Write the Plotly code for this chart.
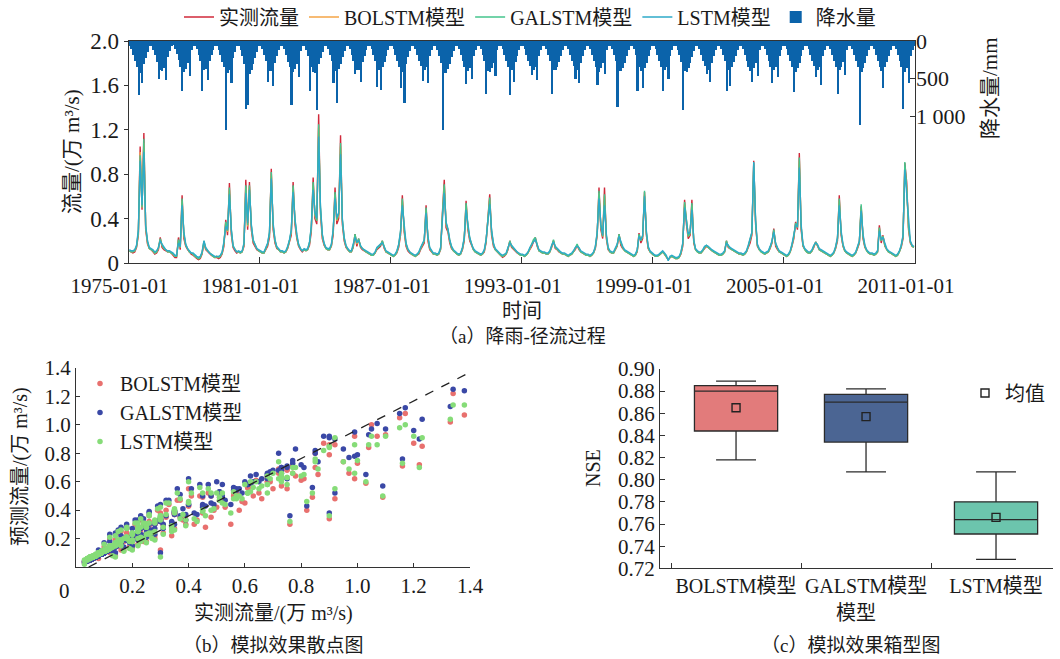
import plotly.graph_objects as go
import pandas as pd

# ---------------- data (monthly, 1975-01 .. 2010-12) ----------------
observed_rows = [
 [0.11,0.10,0.09,0.10,0.14,0.25,1.05,0.48,1.17,0.30,0.17,0.13],
 [0.12,0.10,0.08,0.09,0.12,0.23,0.14,0.12,0.11,0.10,0.10,0.09],
 [0.07,0.05,0.05,0.23,0.12,0.61,0.22,0.15,0.12,0.10,0.08,0.07],
 [0.05,0.04,0.03,0.04,0.08,0.18,0.12,0.10,0.08,0.07,0.06,0.05],
 [0.05,0.04,0.05,0.08,0.15,0.39,0.25,0.72,0.26,0.14,0.11,0.09],
 [0.10,0.09,0.10,0.15,0.75,0.30,0.73,0.30,0.18,0.15,0.12,0.11],
 [0.10,0.09,0.09,0.12,0.15,0.23,0.85,0.30,0.18,0.13,0.12,0.10],
 [0.10,0.09,0.10,0.13,0.18,0.25,0.73,0.35,0.22,0.15,0.12,0.10],
 [0.12,0.11,0.12,0.16,0.28,0.77,0.40,0.35,1.34,0.45,0.22,0.16],
 [0.13,0.12,0.12,0.15,0.25,0.68,0.35,0.40,1.15,0.35,0.20,0.14],
 [0.12,0.10,0.10,0.14,0.26,0.15,0.22,0.14,0.12,0.11,0.10,0.09],
 [0.08,0.07,0.07,0.09,0.12,0.14,0.15,0.20,0.13,0.10,0.09,0.08],
 [0.07,0.06,0.07,0.09,0.14,0.25,0.61,0.28,0.15,0.11,0.09,0.08],
 [0.07,0.06,0.07,0.08,0.12,0.15,0.18,0.52,0.20,0.12,0.10,0.08],
 [0.08,0.07,0.08,0.12,0.45,0.75,0.32,0.28,0.18,0.13,0.11,0.09],
 [0.08,0.07,0.08,0.12,0.20,0.56,0.30,0.20,0.15,0.12,0.10,0.09],
 [0.08,0.07,0.08,0.10,0.18,0.45,0.62,0.25,0.15,0.12,0.10,0.08],
 [0.06,0.05,0.06,0.08,0.12,0.20,0.14,0.12,0.10,0.09,0.08,0.07],
 [0.07,0.06,0.07,0.09,0.12,0.15,0.20,0.23,0.15,0.11,0.10,0.09],
 [0.09,0.08,0.08,0.10,0.14,0.20,0.13,0.12,0.10,0.09,0.08,0.08],
 [0.07,0.06,0.07,0.08,0.10,0.12,0.16,0.12,0.10,0.09,0.08,0.07],
 [0.07,0.06,0.07,0.09,0.13,0.25,0.68,0.30,0.22,0.68,0.22,0.12],
 [0.10,0.09,0.09,0.12,0.15,0.26,0.16,0.13,0.11,0.10,0.09,0.08],
 [0.07,0.06,0.07,0.10,0.27,0.18,0.22,0.64,0.25,0.13,0.10,0.08],
 [0.07,0.06,0.06,0.07,0.09,0.10,0.08,0.06,0.03,0.05,0.06,0.05],
 [0.04,0.04,0.05,0.08,0.15,0.57,0.35,0.22,0.25,0.57,0.18,0.12],
 [0.10,0.09,0.09,0.11,0.13,0.15,0.14,0.12,0.11,0.10,0.09,0.08],
 [0.07,0.07,0.08,0.10,0.20,0.14,0.13,0.12,0.11,0.10,0.09,0.08],
 [0.08,0.07,0.08,0.10,0.14,0.18,0.25,0.92,0.35,0.15,0.12,0.10],
 [0.09,0.08,0.09,0.10,0.13,0.18,0.31,0.15,0.12,0.10,0.09,0.08],
 [0.07,0.06,0.07,0.10,0.15,0.22,0.37,0.30,0.99,0.30,0.15,0.12],
 [0.10,0.09,0.09,0.11,0.14,0.19,0.15,0.12,0.11,0.10,0.09,0.08],
 [0.07,0.06,0.07,0.09,0.13,0.20,0.61,0.25,0.15,0.11,0.09,0.08],
 [0.07,0.06,0.07,0.09,0.13,0.18,0.51,0.22,0.14,0.11,0.09,0.08],
 [0.08,0.07,0.08,0.10,0.34,0.18,0.25,0.15,0.12,0.10,0.09,0.08],
 [0.07,0.06,0.07,0.10,0.14,0.22,0.90,0.73,0.30,0.18,0.15,0.14],
]

bolstm_rows = [
 [0.11,0.10,0.10,0.11,0.15,0.27,1.00,0.50,1.08,0.32,0.18,0.13],
 [0.12,0.11,0.09,0.10,0.13,0.21,0.16,0.13,0.12,0.10,0.10,0.09],
 [0.08,0.06,0.06,0.20,0.14,0.56,0.25,0.16,0.13,0.10,0.09,0.08],
 [0.06,0.05,0.04,0.05,0.09,0.19,0.13,0.11,0.09,0.08,0.06,0.05],
 [0.06,0.05,0.06,0.09,0.17,0.36,0.28,0.66,0.29,0.15,0.12,0.10],
 [0.10,0.09,0.10,0.17,0.68,0.33,0.69,0.33,0.20,0.16,0.13,0.11],
 [0.10,0.09,0.09,0.13,0.17,0.26,0.80,0.33,0.20,0.14,0.12,0.10],
 [0.10,0.09,0.10,0.14,0.20,0.28,0.68,0.38,0.24,0.16,0.13,0.11],
 [0.12,0.11,0.12,0.18,0.31,0.71,0.43,0.38,1.22,0.49,0.24,0.17],
 [0.13,0.12,0.12,0.16,0.28,0.62,0.38,0.43,1.05,0.38,0.22,0.15],
 [0.12,0.10,0.10,0.15,0.25,0.17,0.21,0.15,0.13,0.11,0.10,0.09],
 [0.08,0.07,0.07,0.09,0.13,0.15,0.16,0.19,0.14,0.10,0.09,0.08],
 [0.07,0.06,0.07,0.10,0.16,0.27,0.56,0.30,0.17,0.12,0.10,0.08],
 [0.07,0.06,0.07,0.09,0.13,0.17,0.20,0.48,0.22,0.13,0.10,0.08],
 [0.08,0.07,0.08,0.13,0.42,0.69,0.35,0.30,0.20,0.14,0.11,0.09],
 [0.08,0.07,0.08,0.13,0.22,0.52,0.32,0.22,0.16,0.12,0.10,0.09],
 [0.08,0.07,0.08,0.11,0.20,0.43,0.57,0.28,0.17,0.12,0.10,0.08],
 [0.07,0.06,0.07,0.08,0.13,0.19,0.15,0.13,0.11,0.09,0.08,0.07],
 [0.07,0.06,0.07,0.09,0.13,0.16,0.20,0.22,0.16,0.11,0.10,0.09],
 [0.09,0.08,0.08,0.10,0.15,0.20,0.14,0.12,0.10,0.09,0.08,0.08],
 [0.07,0.06,0.07,0.08,0.10,0.13,0.16,0.13,0.10,0.09,0.08,0.07],
 [0.07,0.06,0.07,0.09,0.14,0.27,0.63,0.33,0.24,0.60,0.24,0.13],
 [0.10,0.09,0.09,0.12,0.16,0.25,0.18,0.14,0.11,0.10,0.09,0.08],
 [0.07,0.06,0.07,0.11,0.25,0.20,0.24,0.61,0.27,0.14,0.10,0.08],
 [0.07,0.06,0.06,0.07,0.09,0.10,0.08,0.06,0.03,0.05,0.06,0.05],
 [0.04,0.04,0.05,0.09,0.17,0.53,0.37,0.24,0.27,0.52,0.20,0.12],
 [0.10,0.09,0.09,0.11,0.14,0.15,0.14,0.12,0.11,0.10,0.09,0.08],
 [0.07,0.07,0.08,0.10,0.19,0.15,0.13,0.12,0.11,0.10,0.09,0.08],
 [0.08,0.07,0.08,0.10,0.15,0.20,0.27,0.86,0.37,0.16,0.12,0.10],
 [0.09,0.08,0.09,0.10,0.14,0.19,0.29,0.17,0.13,0.10,0.09,0.08],
 [0.07,0.06,0.07,0.10,0.16,0.24,0.35,0.32,0.92,0.33,0.16,0.12],
 [0.10,0.09,0.09,0.11,0.15,0.18,0.16,0.12,0.11,0.10,0.09,0.08],
 [0.07,0.06,0.07,0.09,0.14,0.22,0.56,0.27,0.16,0.11,0.09,0.08],
 [0.07,0.06,0.07,0.09,0.14,0.19,0.49,0.24,0.15,0.11,0.09,0.08],
 [0.08,0.07,0.08,0.10,0.31,0.20,0.24,0.16,0.12,0.10,0.09,0.08],
 [0.07,0.06,0.07,0.10,0.15,0.24,0.86,0.67,0.32,0.19,0.15,0.14],
]

galstm_rows = [
 [0.11,0.10,0.10,0.11,0.15,0.28,0.97,0.50,1.12,0.33,0.19,0.13],
 [0.12,0.11,0.09,0.10,0.14,0.22,0.16,0.13,0.12,0.10,0.10,0.09],
 [0.08,0.06,0.06,0.21,0.14,0.58,0.26,0.16,0.13,0.10,0.09,0.08],
 [0.06,0.05,0.04,0.05,0.09,0.20,0.13,0.11,0.09,0.08,0.06,0.05],
 [0.06,0.05,0.06,0.09,0.18,0.37,0.29,0.68,0.30,0.15,0.12,0.10],
 [0.10,0.09,0.10,0.17,0.70,0.34,0.70,0.34,0.20,0.16,0.13,0.11],
 [0.10,0.09,0.09,0.13,0.17,0.27,0.82,0.34,0.20,0.14,0.12,0.10],
 [0.10,0.09,0.10,0.14,0.20,0.29,0.70,0.39,0.24,0.16,0.13,0.11],
 [0.12,0.11,0.12,0.18,0.32,0.73,0.44,0.38,1.25,0.50,0.25,0.17],
 [0.13,0.12,0.12,0.16,0.29,0.64,0.39,0.44,1.08,0.39,0.22,0.15],
 [0.12,0.10,0.10,0.15,0.26,0.18,0.22,0.15,0.13,0.11,0.10,0.09],
 [0.08,0.07,0.07,0.09,0.13,0.15,0.16,0.20,0.14,0.10,0.09,0.08],
 [0.07,0.06,0.07,0.10,0.16,0.28,0.58,0.31,0.17,0.12,0.10,0.08],
 [0.07,0.06,0.07,0.09,0.13,0.17,0.20,0.50,0.23,0.13,0.10,0.08],
 [0.08,0.07,0.08,0.13,0.43,0.71,0.36,0.30,0.20,0.14,0.11,0.09],
 [0.08,0.07,0.08,0.13,0.22,0.54,0.33,0.22,0.16,0.12,0.10,0.09],
 [0.08,0.07,0.08,0.11,0.20,0.44,0.59,0.28,0.17,0.12,0.10,0.08],
 [0.07,0.06,0.07,0.08,0.13,0.20,0.15,0.13,0.11,0.09,0.08,0.07],
 [0.07,0.06,0.07,0.09,0.13,0.16,0.21,0.23,0.16,0.11,0.10,0.09],
 [0.09,0.08,0.08,0.10,0.15,0.21,0.14,0.12,0.10,0.09,0.08,0.08],
 [0.07,0.06,0.07,0.08,0.10,0.13,0.17,0.13,0.10,0.09,0.08,0.07],
 [0.07,0.06,0.07,0.09,0.14,0.27,0.65,0.33,0.24,0.62,0.24,0.13],
 [0.10,0.09,0.09,0.12,0.16,0.26,0.18,0.14,0.11,0.10,0.09,0.08],
 [0.07,0.06,0.07,0.11,0.26,0.20,0.24,0.65,0.27,0.14,0.10,0.08],
 [0.07,0.06,0.06,0.07,0.09,0.10,0.08,0.06,0.03,0.05,0.06,0.05],
 [0.04,0.04,0.05,0.09,0.17,0.55,0.37,0.24,0.27,0.54,0.20,0.12],
 [0.10,0.09,0.09,0.11,0.14,0.16,0.14,0.12,0.11,0.10,0.09,0.08],
 [0.07,0.07,0.08,0.10,0.20,0.15,0.13,0.12,0.11,0.10,0.09,0.08],
 [0.08,0.07,0.08,0.10,0.15,0.20,0.27,0.90,0.38,0.16,0.12,0.10],
 [0.09,0.08,0.09,0.10,0.14,0.19,0.30,0.17,0.13,0.10,0.09,0.08],
 [0.07,0.06,0.07,0.10,0.16,0.24,0.36,0.32,0.95,0.33,0.16,0.12],
 [0.10,0.09,0.09,0.11,0.15,0.19,0.16,0.12,0.11,0.10,0.09,0.08],
 [0.07,0.06,0.07,0.09,0.14,0.22,0.58,0.27,0.16,0.11,0.09,0.08],
 [0.07,0.06,0.07,0.09,0.14,0.19,0.53,0.24,0.15,0.11,0.09,0.08],
 [0.08,0.07,0.08,0.10,0.32,0.20,0.24,0.16,0.12,0.10,0.09,0.08],
 [0.07,0.06,0.07,0.10,0.15,0.24,0.91,0.68,0.32,0.19,0.15,0.14],
]

lstm_rows = [
 [0.12,0.11,0.11,0.12,0.16,0.30,0.92,0.52,1.00,0.34,0.20,0.14],
 [0.13,0.12,0.10,0.11,0.14,0.20,0.17,0.14,0.12,0.11,0.11,0.10],
 [0.09,0.07,0.07,0.18,0.15,0.52,0.28,0.17,0.13,0.11,0.09,0.09],
 [0.07,0.06,0.05,0.06,0.10,0.20,0.14,0.11,0.09,0.08,0.07,0.06],
 [0.06,0.06,0.07,0.10,0.19,0.33,0.30,0.62,0.31,0.16,0.12,0.10],
 [0.11,0.10,0.11,0.18,0.63,0.36,0.66,0.35,0.21,0.16,0.13,0.12],
 [0.11,0.10,0.10,0.14,0.18,0.28,0.76,0.36,0.21,0.15,0.13,0.11],
 [0.11,0.10,0.11,0.15,0.21,0.30,0.64,0.40,0.26,0.17,0.13,0.11],
 [0.13,0.12,0.13,0.19,0.33,0.66,0.46,0.40,1.14,0.52,0.26,0.18],
 [0.14,0.13,0.13,0.17,0.30,0.58,0.41,0.45,0.98,0.40,0.23,0.16],
 [0.13,0.11,0.11,0.16,0.23,0.19,0.20,0.16,0.13,0.12,0.11,0.10],
 [0.09,0.08,0.08,0.10,0.14,0.16,0.17,0.18,0.15,0.11,0.10,0.09],
 [0.08,0.07,0.08,0.11,0.17,0.29,0.52,0.32,0.18,0.13,0.10,0.09],
 [0.08,0.07,0.08,0.10,0.14,0.18,0.21,0.45,0.24,0.14,0.11,0.09],
 [0.09,0.08,0.09,0.14,0.39,0.63,0.37,0.31,0.21,0.15,0.12,0.10],
 [0.09,0.08,0.09,0.14,0.23,0.48,0.34,0.23,0.17,0.13,0.11,0.10],
 [0.09,0.08,0.09,0.12,0.21,0.40,0.53,0.30,0.18,0.13,0.11,0.09],
 [0.08,0.07,0.08,0.09,0.14,0.18,0.16,0.14,0.11,0.10,0.09,0.08],
 [0.08,0.07,0.08,0.10,0.14,0.17,0.19,0.21,0.17,0.12,0.11,0.10],
 [0.10,0.09,0.09,0.11,0.16,0.19,0.15,0.13,0.11,0.10,0.09,0.09],
 [0.08,0.07,0.08,0.09,0.11,0.14,0.15,0.14,0.11,0.10,0.09,0.08],
 [0.08,0.07,0.08,0.10,0.15,0.28,0.58,0.35,0.25,0.52,0.26,0.14],
 [0.11,0.10,0.10,0.13,0.17,0.24,0.19,0.15,0.12,0.11,0.10,0.09],
 [0.08,0.07,0.08,0.12,0.24,0.21,0.25,0.60,0.29,0.15,0.11,0.09],
 [0.08,0.07,0.07,0.08,0.10,0.11,0.09,0.07,0.02,0.06,0.07,0.06],
 [0.05,0.05,0.06,0.10,0.18,0.50,0.38,0.26,0.28,0.48,0.21,0.13],
 [0.11,0.10,0.10,0.12,0.15,0.16,0.15,0.13,0.12,0.11,0.10,0.09],
 [0.08,0.08,0.09,0.11,0.18,0.16,0.14,0.13,0.12,0.11,0.10,0.09],
 [0.09,0.08,0.09,0.11,0.16,0.21,0.28,0.91,0.39,0.17,0.13,0.11],
 [0.10,0.09,0.10,0.11,0.15,0.20,0.28,0.18,0.14,0.11,0.10,0.09],
 [0.08,0.07,0.08,0.11,0.17,0.25,0.34,0.33,0.86,0.35,0.17,0.13],
 [0.11,0.10,0.10,0.12,0.16,0.18,0.17,0.13,0.12,0.11,0.10,0.09],
 [0.08,0.07,0.08,0.10,0.15,0.23,0.52,0.29,0.17,0.12,0.10,0.09],
 [0.08,0.07,0.08,0.10,0.15,0.20,0.47,0.26,0.16,0.12,0.10,0.09],
 [0.09,0.08,0.09,0.11,0.29,0.21,0.23,0.17,0.13,0.11,0.10,0.09],
 [0.08,0.07,0.08,0.11,0.16,0.25,0.84,0.62,0.34,0.20,0.16,0.15],
]

rain_rows = [
 [60,110,190,270,340,720,420,560,300,220,140,70],
 [70,120,180,280,500,390,400,360,520,210,130,60],
 [50,100,170,250,340,660,410,370,290,460,120,60],
 [60,110,180,260,660,380,370,520,270,190,120,60],
 [70,120,190,280,350,1190,430,380,560,220,140,60],
 [70,120,200,300,900,850,440,380,300,220,140,70],
 [60,110,180,270,540,400,400,600,290,200,120,60],
 [60,110,190,280,350,850,410,370,300,480,130,60],
 [70,120,200,660,350,410,430,920,300,220,140,70],
 [60,110,190,270,560,400,830,370,300,210,130,60],
 [60,110,180,260,440,390,390,540,280,200,120,60],
 [60,110,180,260,610,380,650,350,280,200,120,60],
 [60,110,190,270,340,620,410,830,300,210,130,60],
 [60,110,180,260,330,530,390,350,560,200,120,60],
 [70,120,200,290,1180,420,420,370,300,210,130,70],
 [60,110,180,260,340,570,400,360,500,200,120,60],
 [60,110,190,270,700,400,410,360,290,460,120,60],
 [60,110,180,260,340,720,390,550,280,200,120,60],
 [60,110,180,260,330,450,390,350,520,200,120,60],
 [60,110,180,260,700,390,390,350,280,200,120,60],
 [60,110,180,260,330,500,390,560,290,200,120,60],
 [60,110,180,270,340,580,410,360,290,440,120,60],
 [60,110,190,270,880,400,400,360,290,200,120,60],
 [60,110,190,660,350,400,620,360,290,200,120,60],
 [60,110,180,260,340,660,390,350,500,200,120,60],
 [70,120,190,280,925,400,410,360,290,210,130,60],
 [60,110,180,260,330,440,390,540,290,200,120,60],
 [60,110,180,260,660,390,600,350,280,200,120,60],
 [60,110,180,260,340,400,540,360,290,460,120,60],
 [60,110,180,260,340,560,390,350,480,200,120,60],
 [60,110,190,270,350,680,410,360,290,200,120,60],
 [60,110,180,260,330,480,390,350,580,200,120,60],
 [60,110,180,260,340,700,390,350,280,450,120,60],
 [60,110,190,270,350,1120,410,360,290,200,120,60],
 [60,110,180,260,340,400,620,350,280,200,120,60],
 [60,110,190,270,350,900,410,360,560,200,120,60],
]

# extra daily samples (peaks) used in the scatter panel
extra_obs = [1.38,1.33,1.23,1.22,1.20,1.16,1.10,1.09,1.07,1.04,1.03,1.00,0.99,0.97,0.95,0.92,0.90,0.90,0.88,0.86,
             0.84,0.82,0.80,0.78,0.76,0.75,0.72,0.70,0.68,0.66,0.63,0.60,0.58,0.55,0.52,0.50,0.48,0.46,0.44,0.42,
             0.40,0.38,0.36,0.34,0.32,0.30,0.30,0.28,0.26,0.24,0.22,0.20,0.18,0.16,0.14,0.12,0.10,0.08]
extra_bolstm = [1.07,1.02,0.85,0.72,0.87,0.71,0.93,0.49,0.92,0.84,0.59,0.73,0.62,0.66,0.74,0.48,0.34,0.79,0.87,0.65,
                0.49,0.40,0.61,0.64,0.30,0.55,0.69,0.55,0.60,0.48,0.50,0.45,0.40,0.30,0.46,0.42,0.35,0.28,0.50,0.30,
                0.55,0.33,0.47,0.22,0.40,0.12,0.38,0.22,0.32,0.18,0.28,0.15,0.24,0.12,0.19,0.10,0.14,0.06]
extra_galstm = [1.24,1.13,1.04,0.90,0.96,0.76,0.97,0.57,1.01,0.93,0.65,0.79,0.78,0.77,0.83,0.52,0.38,0.92,0.92,0.74,
                0.56,0.43,0.72,0.83,0.36,0.62,0.80,0.68,0.66,0.62,0.60,0.60,0.55,0.44,0.58,0.60,0.45,0.43,0.58,0.38,
                0.62,0.41,0.55,0.28,0.47,0.10,0.44,0.27,0.38,0.22,0.33,0.27,0.28,0.22,0.24,0.18,0.17,0.12]
extra_lstm = [1.14,1.04,0.91,0.70,0.92,0.73,0.92,0.50,0.86,0.86,0.60,0.75,0.66,0.69,0.74,0.55,0.36,0.85,0.82,0.69,
              0.52,0.46,0.64,0.70,0.32,0.58,0.74,0.66,0.64,0.57,0.56,0.58,0.50,0.38,0.52,0.52,0.40,0.36,0.56,0.34,
              0.60,0.37,0.52,0.25,0.45,0.07,0.42,0.25,0.36,0.20,0.31,0.24,0.27,0.18,0.22,0.15,0.16,0.10]
# extra daily samples (mid range)
mid_obs = [0.12,0.14,0.15,0.17,0.18,0.19,0.21,0.22,0.23,0.25,0.26,0.27,0.29,0.31,0.33,0.35,0.37,0.39,0.41,0.43,
           0.45,0.47,0.49,0.51,0.53,0.56,0.59,0.62,0.65,0.69,0.73,0.77,0.81,0.85,0.13,0.16,0.20,0.24,0.28,0.34]
mid_bolstm = [0.20,0.08,0.24,0.12,0.27,0.14,0.30,0.16,0.33,0.18,0.36,0.21,0.40,0.24,0.44,0.27,0.47,0.30,0.50,0.33,
              0.38,0.52,0.40,0.47,0.42,0.50,0.46,0.58,0.52,0.60,0.57,0.66,0.62,0.70,0.09,0.25,0.13,0.30,0.20,0.26]
mid_galstm = [0.23,0.10,0.26,0.14,0.30,0.17,0.33,0.19,0.36,0.21,0.39,0.24,0.43,0.27,0.47,0.30,0.51,0.33,0.55,0.37,
              0.42,0.58,0.44,0.53,0.47,0.56,0.52,0.64,0.60,0.67,0.66,0.75,0.70,0.80,0.11,0.28,0.15,0.34,0.23,0.30]
mid_lstm = [0.21,0.07,0.25,0.11,0.28,0.13,0.31,0.15,0.34,0.17,0.37,0.20,0.41,0.23,0.45,0.26,0.48,0.29,0.52,0.32,
            0.40,0.55,0.41,0.49,0.44,0.53,0.48,0.60,0.55,0.62,0.60,0.70,0.65,0.74,0.08,0.26,0.12,0.31,0.19,0.27]

ref_line_x = [0.045, 1.40]
ref_line_y = [0.0, 1.37]

model_names = ["BOLSTM模型", "GALSTM模型", "LSTM模型"]
nse_lower = [0.818, 0.807, 0.728]
nse_q1 = [0.844, 0.834, 0.751]
nse_median = [0.880, 0.870, 0.764]
nse_q3 = [0.885, 0.877, 0.780]
nse_upper = [0.889, 0.882, 0.807]
nse_mean = [0.865, 0.857, 0.766]

date_ticks = ["1975-01-01", "1981-01-01", "1987-01-01", "1993-01-01", "1999-01-01", "2005-01-01", "2011-01-01"]
flow_ticks = [0, 0.4, 0.8, 1.2, 1.6, 2.0]
flow_ticktext = ["0", "0.4", "0.8", "1.2", "1.6", "2.0"]
rain_ticks = [0, 500, 1000]
rain_ticktext = ["0", "500", "1 000"]
sc_ticks = [0.2, 0.4, 0.6, 0.8, 1.0, 1.2, 1.4]
sc_ticktext = ["0.2", "0.4", "0.6", "0.8", "1.0", "1.2", "1.4"]

# ---------------- build ----------------
def flat(rows):
    return [v for r in rows for v in r]

obs = flat(observed_rows)
bol = flat(bolstm_rows)
gal = flat(galstm_rows)
lst = flat(lstm_rows)
rain = flat(rain_rows)
assert len(obs) == len(bol) == len(gal) == len(lst) == len(rain), (len(obs), len(bol), len(gal), len(lst), len(rain))
dates = pd.date_range("1975-01-01", periods=len(obs), freq="MS") + pd.Timedelta(days=14)

FONT = "Liberation Serif, Times New Roman, Noto Sans CJK SC, serif"
TXT = "#1a1a1a"
AX = "#333333"

C_OBS, C_BOL, C_GAL, C_LST = "#d0283a", "#f4a446", "#45c58c", "#2eaac9"
C_RAIN = "#0b63aa"

fig = go.Figure()

# --- panel (a)
for name, ys, col in [("实测流量", obs, C_OBS), ("BOLSTM模型", bol, C_BOL),
                      ("GALSTM模型", gal, C_GAL), ("LSTM模型", lst, C_LST)]:
    fig.add_trace(go.Scatter(x=dates, y=ys, mode="lines", name=name,
                             line=dict(color=col, width=1.4), xaxis="x", yaxis="y"))
fig.add_trace(go.Bar(x=dates, y=rain, name="降水量", marker=dict(color=C_RAIN, line=dict(width=0)),
                     xaxis="x", yaxis="y2"))

# --- panel (b)
sc_obs = obs + extra_obs + mid_obs
for name, ys, ex, md, col in [("BOLSTM模型", bol, extra_bolstm, mid_bolstm, "#e8706e"),
                              ("GALSTM模型", gal, extra_galstm, mid_galstm, "#3a48a6"),
                              ("LSTM模型", lst, extra_lstm, mid_lstm, "#86dc78")]:
    fig.add_trace(go.Scatter(x=sc_obs, y=ys + ex + md, mode="markers", name=name,
                             marker=dict(color=col, size=5.5, line=dict(width=0)),
                             xaxis="x3", yaxis="y3", legend="legend2"))
fig.add_trace(go.Scatter(x=ref_line_x, y=ref_line_y, mode="lines", showlegend=False,
                         line=dict(color="#222", width=1.3, dash="dash"), xaxis="x3", yaxis="y3"))

# --- panel (c)
box_colors = ["#e27b7b", "#4b6593", "#6cc5ad"]
for i, nm in enumerate(model_names):
    fig.add_trace(go.Box(x=[nm], q1=[nse_q1[i]], median=[nse_median[i]], q3=[nse_q3[i]],
                         lowerfence=[nse_lower[i]], upperfence=[nse_upper[i]],
                         fillcolor=box_colors[i], line=dict(color="#2b2b2b", width=1.3),
                         width=0.64, whiskerwidth=0.48, boxpoints=False, showlegend=False,
                         xaxis="x4", yaxis="y4"))
fig.add_trace(go.Scatter(x=model_names, y=nse_mean, mode="markers", name="均值",
                         marker=dict(symbol="square-open", size=8, color="#222", line=dict(width=1.4)),
                         xaxis="x4", yaxis="y4", legend="legend3"))

W, H = 1060, 659

def axis(**kw):
    base = dict(showgrid=False, zeroline=False, showline=True, linecolor=AX, linewidth=1,
                tickcolor=AX, automargin=False, tickfont=dict(size=21, color=TXT))
    base.update(kw)
    return base

fig.update_layout(
    width=W, height=H, margin=dict(l=0, r=0, t=0, b=0, autoexpand=False),
    paper_bgcolor="white", plot_bgcolor="white",
    font=dict(family=FONT, size=19, color=TXT),
    bargap=0,
    xaxis=axis(domain=[128.5 / W, 915 / W], anchor="y", type="date",
               range=["1975-01-01", "2011-01-01"], tickvals=date_ticks, ticktext=date_ticks,
               ticks="inside", ticklen=6, mirror=True, ticklabelshift=-9, ticklabelstandoff=4,
               tickangle=0, tickfont=dict(size=21, color=TXT)),
    yaxis=axis(domain=[1 - 263 / H, 1 - 41 / H], anchor="x", range=[0, 2.0],
               tickvals=flow_ticks, ticktext=flow_ticktext, ticks="outside", ticklen=4, mirror=True,
               tickfont=dict(size=23, color=TXT)),
    yaxis2=dict(overlaying="y", side="right", anchor="x", range=[2960, 0],
                tickvals=rain_ticks, ticktext=rain_ticktext, ticks="inside", ticklen=5,
                showgrid=False, zeroline=False, showline=False, tickcolor=AX, automargin=False,
                tickfont=dict(size=22, color=TXT)),
    xaxis3=axis(domain=[76 / W, 470 / W], anchor="y3", range=[0, 1.4], tickangle=0,
                tickvals=sc_ticks, ticktext=sc_ticktext, ticks="inside", ticklen=4),
    yaxis3=axis(domain=[1 - 567 / H, 1 - 368 / H], anchor="x3", range=[0, 1.4],
                tickvals=sc_ticks, ticktext=sc_ticktext, ticks="inside", ticklen=4),
    xaxis4=axis(domain=[660 / W, 1052.7 / W], anchor="y4", type="category",
                categoryorder="array", categoryarray=model_names, range=[-0.585, 2.436],
                ticks="inside", ticklen=5, tickson="boundaries", tickangle=0,
                tickfont=dict(size=20, color=TXT)),
    yaxis4=axis(domain=[1 - 568.3 / H, 1 - 369 / H], anchor="x4", range=[0.72, 0.90],
                tick0=0.72, dtick=0.02, tickformat=".2f", ticks="inside", ticklen=5),
    legend=dict(orientation="h", x=0.5, xanchor="center", y=1 - 17 / H, yanchor="middle",
                font=dict(size=20), bgcolor="rgba(0,0,0,0)", itemwidth=30),
    legend2=dict(x=80 / W, xanchor="left", y=1 - 364 / H, yanchor="top", font=dict(size=20),
                 bgcolor="rgba(0,0,0,0)", tracegroupgap=0),
    legend3=dict(x=965 / W, xanchor="left", y=1 - 393 / H, yanchor="middle", font=dict(size=20),
                 bgcolor="rgba(0,0,0,0)"),
)

annos = [
    dict(text="流量/(万 m³/s)", x=72 / W, y=1 - 152 / H, textangle=-90, size=21),
    dict(text="降水量/mm", x=990 / W, y=1 - 88 / H, textangle=-90, size=21),
    dict(text="时间", x=522 / W, y=1 - 311 / H, textangle=0, size=20),
    dict(text="（a）降雨-径流过程", x=522 / W, y=1 - 336 / H, textangle=0, size=19),
    dict(text="预测流量/(万 m³/s)", x=20 / W, y=1 - 467 / H, textangle=-90, size=20),
    dict(text="实测流量/(万 m³/s)", x=273 / W, y=1 - 613 / H, textangle=0, size=20),
    dict(text="（b）模拟效果散点图", x=273 / W, y=1 - 645 / H, textangle=0, size=19),
    dict(text="0", x=64 / W, y=1 - 591 / H, textangle=0, size=21),
    dict(text="NSE", x=593 / W, y=1 - 468 / H, textangle=-90, size=20),
    dict(text="模型", x=856 / W, y=1 - 613 / H, textangle=0, size=20),
    dict(text="（c）模拟效果箱型图", x=850 / W, y=1 - 645 / H, textangle=0, size=19),
]
for a in annos:
    fig.add_annotation(text=a["text"], x=a["x"], y=a["y"], xref="paper", yref="paper",
                       xanchor="center", yanchor="middle", showarrow=False, textangle=a["textangle"],
                       font=dict(size=a["size"], color=TXT, family=FONT))

fig.write_html("out.html", config={"displayModeBar": False},
               post_script="document.body.style.margin='0px';document.body.style.overflow='hidden';")
